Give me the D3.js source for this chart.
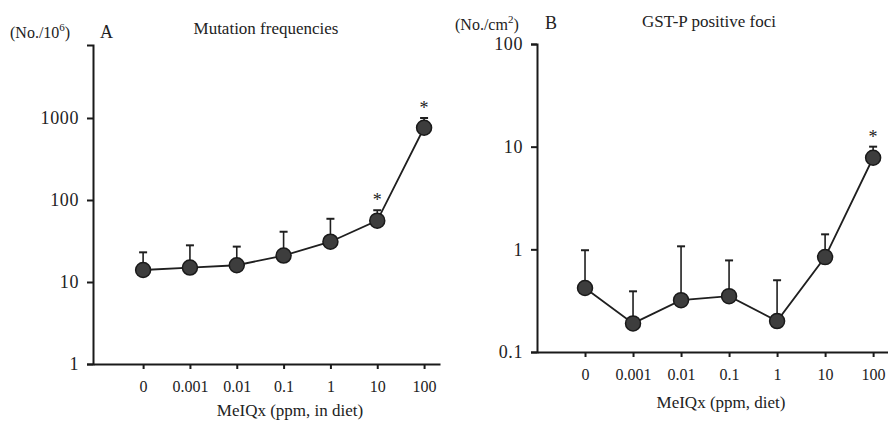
<!DOCTYPE html>
<html>
<head>
<meta charset="utf-8">
<script src="https://cdn.jsdelivr.net/npm/d3@7"></script>
<style>
  body { margin: 0; background: #fff; }
  svg { display: block; font-family: "Liberation Serif", "DejaVu Serif", serif; }
  .axis path, .axis line { stroke: #1a1a1a; stroke-width: 2; }
  .axis text { fill: #222; font-family: "Liberation Serif", serif; }
</style>
</head>
<body>
<svg width="888" height="422"></svg>
<script>
// dose groups (ppm MeIQx in diet)
const doses = ["0", "0.001", "0.01", "0.1", "1", "10", "100"];

// A: mutation frequencies (No./10^6)
const mutMean = [14, 15, 16, 21, 31, 56, 760];
const mutUpper = [23, 28, 27, 41, 59, 75, 1000];
const mutSig = [false, false, false, false, false, true, true];
const mutTicks = [1, 10, 100, 1000];

// B: GST-P positive foci (No./cm2)
const fociMean = [0.42, 0.19, 0.32, 0.35, 0.20, 0.84, 7.8];
const fociUpper = [0.98, 0.39, 1.07, 0.78, 0.50, 1.40, 10];
const fociSig = [false, false, false, false, false, false, true];
const fociTicks = [0.1, 1, 10, 100];

let svg = d3.select("svg");

function drawPanel(opt) {
    let x = d3.scaleLinear().domain(opt.xDomain).range(opt.xRange);
    let y = d3.scaleLog().domain(opt.yDomain).range(opt.yRange);

    // y axis
    svg.append("g")
        .attr("class", "axis")
        .attr("transform", "translate(" + opt.xRange[0] + ",0)")
        .call(d3.axisLeft(y).tickValues(opt.yTicks).tickSize(6).tickSizeOuter(6).tickPadding(8)
            .tickFormat(d => String(d)))
        .selectAll("text").style("font-size", "18px").style("letter-spacing", "0.6px");

    // x axis
    svg.append("g")
        .attr("class", "axis")
        .attr("transform", "translate(0," + opt.yRange[0] + ")")
        .call(d3.axisBottom(x).tickValues(d3.range(doses.length)).tickSize(5).tickSizeOuter(0).tickPadding(12)
            .tickFormat(i => doses[i]))
        .selectAll("text").style("font-size", "16px");

    let g = svg.append("g");

    // connecting line
    g.append("path")
        .datum(opt.mean)
        .attr("fill", "none")
        .attr("stroke", "#1f1f1f")
        .attr("stroke-width", 1.8)
        .attr("d", d3.line().x((d, i) => x(i)).y(d => y(d)));

    // error bars (upper only)
    opt.mean.forEach((m, i) => {
        g.append("line")
            .attr("x1", x(i)).attr("x2", x(i))
            .attr("y1", y(m)).attr("y2", y(opt.upper[i]))
            .attr("stroke", "#1f1f1f").attr("stroke-width", 1.6);
        g.append("line")
            .attr("x1", x(i) - 4).attr("x2", x(i) + 4)
            .attr("y1", y(opt.upper[i])).attr("y2", y(opt.upper[i]))
            .attr("stroke", "#1f1f1f").attr("stroke-width", 2);
        if (opt.sig[i]) {
            g.append("text")
                .attr("x", x(i))
                .attr("y", y(opt.upper[i]) - 4)
                .attr("text-anchor", "middle")
                .attr("font-size", "18px")
                .attr("fill", "#222")
                .text("*");
        }
    });

    // markers
    g.selectAll("circle.pt")
        .data(opt.mean)
        .enter().append("circle")
        .attr("class", "pt")
        .attr("cx", (d, i) => x(i))
        .attr("cy", d => y(d))
        .attr("r", 7.5)
        .attr("fill", "#3d3d3d")
        .attr("stroke", "#1a1a1a")
        .attr("stroke-width", 1.5);

    // x axis title
    svg.append("text")
        .attr("x", opt.xTitlePos[0]).attr("y", opt.xTitlePos[1])
        .attr("text-anchor", "middle")
        .attr("font-size", "17px").attr("fill", "#222")
        .text(opt.xTitle);

    // panel letter
    svg.append("text")
        .attr("x", opt.letterPos[0]).attr("y", opt.letterPos[1])
        .attr("font-size", "18px").attr("fill", "#222")
        .text(opt.letter);

    // panel title
    svg.append("text")
        .attr("x", opt.titlePos[0]).attr("y", opt.titlePos[1])
        .attr("text-anchor", "middle")
        .attr("font-size", "17px").attr("fill", "#222")
        .text(opt.title);

    // unit label with superscript
    let u = svg.append("text")
        .attr("x", opt.unitPos[0]).attr("y", opt.unitPos[1])
        .attr("font-size", "16px").attr("fill", "#222");
    u.append("tspan").text(opt.unit[0]);
    u.append("tspan").attr("font-size", "11px").attr("dy", "-0.6em").text(opt.unit[1]);
    u.append("tspan").attr("dy", "0.4em").text(")");
}

drawPanel({
    xDomain: [-1.07, 6.34], xRange: [93, 440],
    yDomain: [1, Math.pow(10, 3.89)], yRange: [364, 45],
    yTicks: mutTicks,
    mean: mutMean, upper: mutUpper, sig: mutSig,
    xTitle: "MeIQx (ppm, in diet)", xTitlePos: [290, 416],
    letter: "A", letterPos: [100, 38],
    title: "Mutation frequencies", titlePos: [266, 34],
    unit: ["(No./10", "6"], unitPos: [10, 38]
});

drawPanel({
    xDomain: [-1.0, 6.31], xRange: [537, 888],
    yDomain: [0.1, 100], yRange: [352, 44],
    yTicks: fociTicks,
    mean: fociMean, upper: fociUpper, sig: fociSig,
    xTitle: "MeIQx (ppm, diet)", xTitlePos: [721, 408],
    letter: "B", letterPos: [545, 29],
    title: "GST-P positive foci", titlePos: [709, 27],
    unit: ["(No./cm", "2"], unitPos: [455, 30]
});
</script>
</body>
</html>
